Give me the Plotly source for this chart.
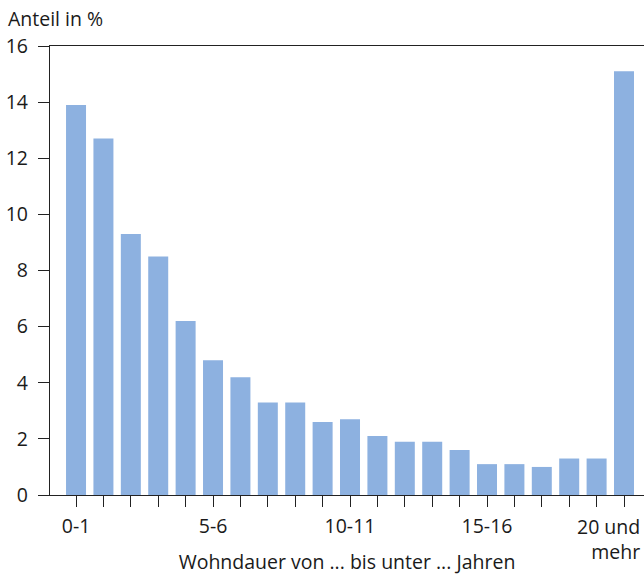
import plotly.graph_objects as go

categories = ["0-1", "1-2", "2-3", "3-4", "4-5", "5-6", "6-7", "7-8", "8-9", "9-10",
              "10-11", "11-12", "12-13", "13-14", "14-15", "15-16", "16-17", "17-18",
              "18-19", "19-20", "20 und mehr"]
values = [13.9, 12.7, 9.3, 8.5, 6.2, 4.8, 4.2, 3.3, 3.3, 2.6, 2.7, 2.1, 1.9, 1.9,
          1.6, 1.1, 1.1, 1.0, 1.3, 1.3, 15.1]
tick_labels = ["0-1", "", "", "", "", "5-6", "", "", "", "", "10-11", "", "", "", "",
               "15-16", "", "", "", "", ""]
y_ticks = [0, 2, 4, 6, 8, 10, 12, 14, 16]

FONT = "Open Sans"
FS = 19.5
TXT = "#1a1a1a"

x_idx = list(range(len(categories)))

fig = go.Figure(go.Bar(
    x=x_idx, y=values, marker_color="#8db1e0", marker_line_width=0,
    hovertext=categories, width=0.73,
))

fig.update_layout(
    width=644, height=575,
    margin=dict(l=50, r=0, t=46, b=80),
    paper_bgcolor="white", plot_bgcolor="white",
    showlegend=False,
    font=dict(family=FONT, size=FS, color=TXT),
    xaxis=dict(
        range=[-0.95, 20.73], tickmode="array", tickvals=x_idx, ticktext=tick_labels,
        ticks="outside", ticklen=11, tickcolor="#222", tickwidth=1.3,
        showline=True, linecolor="#222", linewidth=1.3, mirror=True,
        showgrid=False, zeroline=False, ticklabelstandoff=2,
        title=dict(text="Wohndauer von ... bis unter ... Jahren", standoff=22,
                   font=dict(size=FS, color=TXT)),
    ),
    yaxis=dict(
        range=[0, 16], tickmode="array", tickvals=y_ticks,
        ticks="outside", ticklen=11, tickcolor="#222", tickwidth=1.3,
        showline=True, linecolor="#222", linewidth=1.3,
        showgrid=False, zeroline=False, ticklabelstandoff=6,
    ),
    annotations=[
        dict(text="Anteil in %", xref="paper", yref="paper", x=-50/594, y=1.0,
             xanchor="left", yanchor="bottom", yshift=12, showarrow=False,
             xshift=6, font=dict(size=FS, color=TXT)),
        dict(text="20 und<br>mehr", xref="paper", yref="paper", x=1.0, y=0,
             xanchor="right", yanchor="top", align="right", showarrow=False,
             xshift=-2, yshift=-16, font=dict(size=FS, color=TXT)),
    ],
)

fig.write_html("out.html", config={"displayModeBar": False},
               post_script="document.body.style.margin='0';")
